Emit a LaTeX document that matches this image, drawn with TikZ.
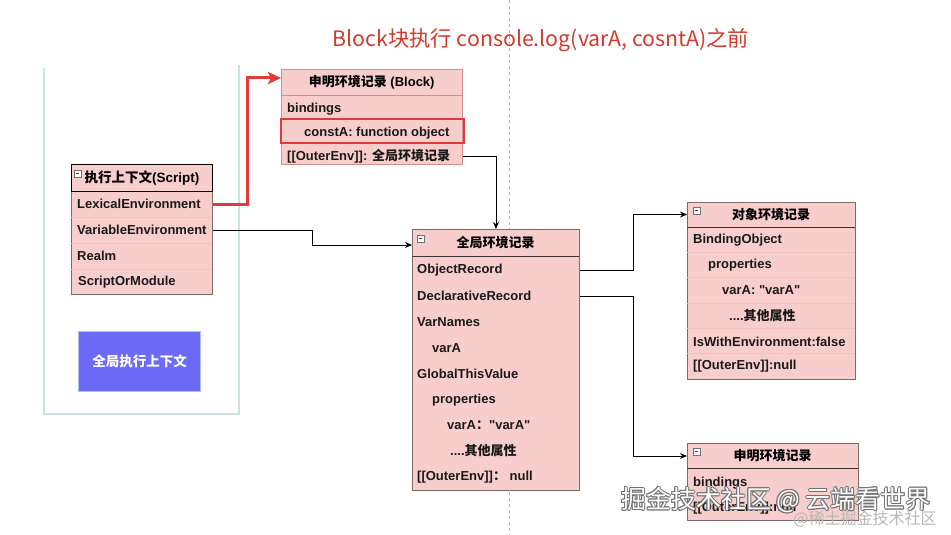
\documentclass[tikz,border=0pt]{standalone}
\usepackage{fontspec}
\setmainfont{Liberation Sans}
\newfontfamily\cjk{Noto Sans CJK SC}
\usetikzlibrary{arrows.meta,calc}
\newcommand{\dqt}{\XeTeXglyph\XeTeXcharglyph"22\relax}
\definecolor{pk}{HTML}{F8CECC}
\definecolor{bdr}{HTML}{7E6A6A}
\definecolor{blkbdr}{HTML}{D38F8C}
\definecolor{sepc}{HTML}{EDC3C1}
\definecolor{redc}{HTML}{E03A3A}
\definecolor{ttlc}{HTML}{D43A2A}
\definecolor{tealc}{HTML}{CDE3DF}
\definecolor{bluef}{HTML}{6B6BF7}
\definecolor{blueb}{HTML}{A9C3EE}
\definecolor{hdrline}{HTML}{3F3333}
\begin{document}
\begin{tikzpicture}[x=1pt,y=-1pt,
  frame/.style={draw=bdr, fill=pk, line width=0.9pt, rectangle, inner sep=0pt, anchor=north west},
  hdr/.style={rectangle, inner sep=0pt, anchor=north west, font=\bfseries\fontsize{13}{15}\selectfont},
  rt/.style={anchor=west, inner sep=0pt, font=\bfseries\fontsize{13}{15}\selectfont, text=black!90},
  sep/.style={draw=sepc, line width=0.6pt},
  minus/.style={draw=black!55, fill=white, minimum size=6.5pt, inner sep=0pt, line width=0.5pt,
    path picture={\draw[line width=0.9pt, black!75] ($(path picture bounding box.west)+(1.3pt,0)$) -- ($(path picture bounding box.east)+(-1.3pt,0)$);}},
  conn/.style={draw=black, line width=0.9pt, -{Stealth[length=7pt,width=6pt]}},
  redline/.style={draw=redc, line width=3pt, -{Stealth[length=13pt,width=12pt,inset=3pt]}},
  wms/.style={text=black!55, font=\cjk\fontsize{25}{30}\selectfont, inner sep=0pt},
  wmw/.style={text=white, font=\cjk\fontsize{25}{30}\selectfont, inner sep=0pt}
]
\useasboundingbox (0,0) rectangle (951,535);
\fill[white] (0,0) rectangle (951,535);

% dashed vertical guide
\draw[black!30, line width=0.8pt, dash pattern=on 3pt off 3pt] (509,0) -- (509,535);

% title
\node[text=ttlc, font=\cjk\fontsize{21.3}{25}\selectfont, inner sep=0pt] (ttl) at (541,40) {Block块执行 console.log(varA, cosntA)之前};

% left container
\draw[tealc, line width=1.6pt] (44,68) -- (44,414) -- (239,414) -- (239,65);

% global execution context
\node[draw=blueb, fill=bluef, line width=1.2pt, minimum width=122pt, minimum height=60pt, anchor=north west, inner sep=0pt] (gctx) at (78,331) {};
\node[text=white, font=\cjk\bfseries\fontsize{13.5}{15}\selectfont] (gctxT) at (gctx.center) {全局执行上下文};

% ---------- Script execution context ----------
\node[frame, minimum width=141pt, minimum height=130pt] (scr) at (71,164) {};
\draw[sep] (71,217) -- (212,217);
\draw[sep] (71,243) -- (212,243);
\draw[sep] (71,269) -- (212,269);
\node[hdr, draw=black, line width=0.9pt, minimum width=141pt, minimum height=27pt, font=\bfseries\fontsize{13.5}{15}\selectfont] (scrH) at (71,164) {{\cjk\bfseries 执行上下文}(Script)};
\node[minus] (scrI) at (77.5,173.5) {};
\node[rt] (sLex) at (77,204) {LexicalEnvironment};
\node[rt] (sVar) at (77,230) {VariableEnvironment};
\node[rt] (sRealm) at (77,256) {Realm};
\node[rt] (sSoM) at (78,282) {ScriptOrModule};

% ---------- Block declarative record ----------
\node[frame, draw=blkbdr, minimum width=181pt, minimum height=95pt] (blk) at (281,69) {};
\draw[blkbdr, line width=0.9pt] (281,95) -- (462,95);
\node[hdr, minimum width=181pt, minimum height=26pt] (blkH) at (281,69) {{\cjk\bfseries 申明环境记录} (Block)};
\node[rt] (bBind) at (287,109) {bindings};
\node[rt] (bConst) at (304,133) {constA: function object};
\node[rt] (bOut) at (287,156) {[[OuterEnv]]: {\cjk\bfseries 全局环境记录}};
\node[draw=redc, line width=2.4pt, minimum width=183pt, minimum height=24pt, anchor=north west, inner sep=0pt] (bHi) at (280,118) {};

% ---------- Global environment record ----------
\node[frame, minimum width=167pt, minimum height=261pt] (glb) at (412,229) {};
\draw[hdrline, line width=0.9pt] (412,256) -- (579,256);
\node[hdr, minimum width=167pt, minimum height=27pt] (glbH) at (412,229) {\cjk\bfseries 全局环境记录};
\node[minus] (glbI) at (420.5,238.5) {};
\node[rt] (gObj) at (417,270) {ObjectRecord};
\node[rt] (gDec) at (417,296) {DeclarativeRecord};
\node[rt] (gVN) at (417,322) {VarNames};
\node[rt] (gVA) at (432,348) {varA};
\node[rt] (gGT) at (417,374) {GlobalThisValue};
\node[rt] (gPr) at (432,400) {properties};
\node[rt] (gVV) at (447,425) {varA{\cjk\bfseries ：}\dqt varA\dqt};
\node[rt] (gOt) at (450,451) {....{\cjk\bfseries 其他属性}};
\node[rt] (gOE) at (417,477) {[[OuterEnv]]{\cjk\bfseries ：}\ null};

% ---------- Object environment record ----------
\node[frame, minimum width=168pt, minimum height=177pt] (obj) at (687,202) {};
\draw[sep] (687,252.3) -- (855,252.3);
\draw[sep] (687,277.7) -- (855,277.7);
\draw[sep] (687,303) -- (855,303);
\draw[sep] (687,328.3) -- (855,328.3);
\draw[sep] (687,353.7) -- (855,353.7);
\draw[hdrline, line width=0.9pt] (687,227) -- (855,227);
\node[hdr, minimum width=168pt, minimum height=25pt] (objH) at (687,202) {\cjk\bfseries 对象环境记录};
\node[minus] (objI) at (696.5,210.5) {};
\node[rt] (oBO) at (693,240.5) {BindingObject};
\node[rt] (oPr) at (708,265.5) {properties};
\node[rt] (oVV) at (722,290.5) {varA: \dqt varA\dqt};
\node[rt] (oOt) at (729,316) {....{\cjk\bfseries 其他属性}};
\node[rt] (oIW) at (693,341.5) {IsWithEnvironment:false};
\node[rt] (oOE) at (693,366.5) {[[OuterEnv]]:null};

% ---------- Declarative environment record ----------
\node[frame, minimum width=171pt, minimum height=77pt] (dcl) at (687,443) {};
\draw[hdrline, line width=0.9pt] (687,468) -- (858,468);
\node[hdr, minimum width=171pt, minimum height=25pt] (dclH) at (687,443) {\cjk\bfseries 申明环境记录};
\node[minus] (dclI) at (696.5,451.5) {};
\node[rt] (dBind) at (693,483) {bindings};
\node[rt] (dOE) at (693,508) {[[OuterEnv]]:null};

% ---------- connectors ----------
\coordinate (rb) at (247,78);
\draw[redline] (scr.east |- sLex) -| (rb) -- (rb -| blk.west);
\draw[conn] (blk.east |- bOut) -| (glb.north);
\coordinate (c1) at (312,245);
\draw[conn] (scr.east |- sVar) -| (c1) -- (c1 -| glb.west);
\coordinate (c2) at (633,214.5);
\draw[conn] (glb.east |- gObj) -| (c2) -- (c2 -| obj.west);
\coordinate (c3) at (633,456);
\draw[conn] (glb.east |- gDec) -| (c3) -- (c3 -| dcl.west);

% ---------- watermark ----------
\foreach \dx/\dy [count=\i] in {-1/0,1/0,0/-1,0/1,-0.8/-0.8,0.8/0.8,-0.8/0.8,0.8/-0.8}
  \node[wms] (wms\i) at ({776+\dx},{500+\dy}) {掘金技术社区 @ 云端看世界};
\node[wmw] (wmw) at (776,500) {掘金技术社区 @ 云端看世界};
\node[text=black!28, font=\cjk\fontsize{16}{18}\selectfont, inner sep=0pt] (wm2) at (865,519) {@稀土掘金技术社区};
\end{tikzpicture}
\end{document}
